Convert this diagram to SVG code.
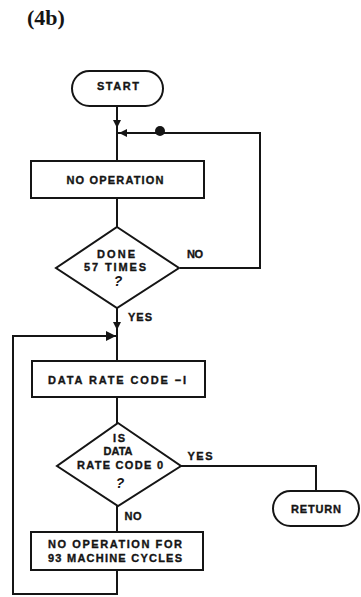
<svg xmlns="http://www.w3.org/2000/svg" width="361" height="597" viewBox="0 0 361 597">
<style>
.s{fill:none;stroke:#151515;stroke-width:2}
.n{fill:#fff;stroke:#151515;stroke-width:2}
.t{font-family:"Liberation Sans",Arial,sans-serif;font-weight:bold;font-size:11px;fill:#151515;stroke:#151515;stroke-width:0.35;text-anchor:middle}
.q{font-family:"Liberation Sans",Arial,sans-serif;font-weight:bold;font-size:14px;fill:#151515;text-anchor:middle;font-style:italic}
.h{font-family:"Liberation Serif","Times New Roman",serif;font-weight:bold;font-size:22px;fill:#151515}
.a{fill:#151515}
</style>
<rect width="361" height="597" fill="#fff"/>
<text class="h" x="27" y="25">(4b)</text>
<g id="connectors">
<path class="s" d="M117,106 V161"/>
<path class="s" d="M117,133 H260 V268 H180"/>
<path class="s" d="M117,198 V227"/>
<path class="s" d="M117,308 V361"/>
<path class="s" d="M117,397 V423"/>
<path class="s" d="M181,466 H316 V491"/>
<path class="s" d="M117,506 V532"/>
<path class="s" d="M117,570 V594 H13 V336 H117"/>
<polygon class="a" points="113,120 121,120 117,128"/>
<polygon class="a" points="119,133 127,129 127,137"/>
<ellipse class="a" cx="160" cy="131" rx="5" ry="5"/>
<polygon class="a" points="113,322 121,322 117,330"/>
<polygon class="a" points="106,331 116,336 106,341"/>
</g>
<g id="start">
<rect class="n" x="72" y="71" width="91" height="35" rx="17.5"/>
<text class="t" x="118" y="90" textLength="42" lengthAdjust="spacing">START</text>
</g>
<g id="noop">
<rect class="n" x="31" y="161" width="173" height="37"/>
<text class="t" x="115" y="184" textLength="97" lengthAdjust="spacing">NO OPERATION</text>
</g>
<g id="done57">
<polygon class="n" points="117,227 179,268 117,308 56,268"/>
<text class="t" x="116" y="258" textLength="38" lengthAdjust="spacing">DONE</text>
<text class="t" x="115" y="271" textLength="62" lengthAdjust="spacing">57 TIMES</text>
<text class="q" x="118" y="286">?</text>
<text class="t" x="195" y="258" textLength="16" lengthAdjust="spacing">NO</text>
<text class="t" x="140" y="321" textLength="24" lengthAdjust="spacing">YES</text>
</g>
<g id="decrement">
<rect class="n" x="32" y="361" width="173" height="36"/>
<text class="t" x="117" y="384" textLength="138" lengthAdjust="spacing">DATA RATE CODE −I</text>
</g>
<g id="iszero">
<polygon class="n" points="118,423 181,466 118,506 57,466"/>
<text class="t" x="119" y="442" textLength="12" lengthAdjust="spacing">IS</text>
<text class="t" x="118" y="455" textLength="29" lengthAdjust="spacing">DATA</text>
<text class="t" x="120" y="469" textLength="86" lengthAdjust="spacing">RATE CODE 0</text>
<text class="q" x="120" y="488">?</text>
<text class="t" x="200" y="460" textLength="25" lengthAdjust="spacing">YES</text>
<text class="t" x="133" y="520" textLength="17" lengthAdjust="spacing">NO</text>
</g>
<g id="return">
<rect class="n" x="273" y="491" width="86" height="35" rx="17.5"/>
<text class="t" x="316" y="513" textLength="50" lengthAdjust="spacing">RETURN</text>
</g>
<g id="wait93">
<rect class="n" x="31" y="532" width="172" height="38"/>
<text class="t" x="115" y="548" textLength="134" lengthAdjust="spacing">NO OPERATION FOR</text>
<text class="t" x="115" y="562" textLength="134" lengthAdjust="spacing">93 MACHINE CYCLES</text>
</g>
</svg>
